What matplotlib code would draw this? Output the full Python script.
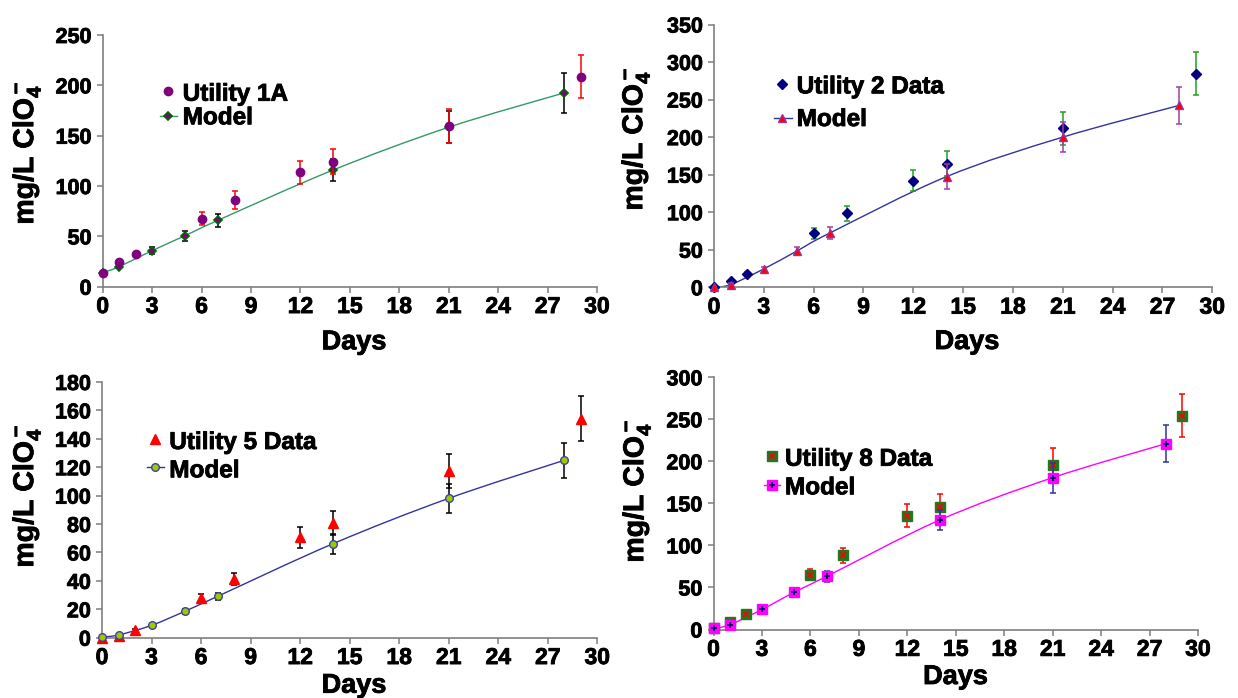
import numpy as np
import matplotlib
matplotlib.use("Agg")
import matplotlib.pyplot as plt
import matplotlib.patheffects as pe
from matplotlib.path import Path
from matplotlib.patches import PathPatch
from matplotlib.lines import Line2D

# ---------------- data ----------------
data_days = [0, 1, 2, 6, 8, 12, 14, 21, 29]
model_days = [0, 1, 3, 5, 7, 14, 21, 28]
x_ticks = list(range(0, 31, 3))

u1_data = [13.9, 24.5, 32.2, 67.6, 85.9, 113.7, 124.3, 159.7, 208.7]
u1_data_err = [1.5, 2.0, 2.5, 6.8, 9.0, 11.5, 12.5, 16.5, 21.0]
u1_model = [13.9, 19.9, 35.8, 50.7, 66.0, 116.0, 158.4, 192.5]
u1_model_err = [1.0, 1.5, 3.3, 5.0, 6.7, 11.0, 16.0, 19.5]

u2_data = [1.0, 8.0, 18.3, 71.7, 98.4, 142.0, 164.7, 211.5, 284.5]
u2_data_err = [1.0, 1.5, 2.0, 7.3, 10.0, 14.0, 16.5, 22.0, 29.0]
u2_model = [0.0, 3.6, 24.5, 48.5, 72.6, 147.4, 200.0, 242.2]
u2_model_err = [1.0, 1.5, 3.0, 5.5, 8.0, 16.5, 20.0, 24.5]

u5_data = [0.0, 1.4, 5.2, 27.9, 41.3, 70.7, 81.0, 117.6, 154.2]
u5_data_err = [0.5, 0.8, 1.0, 3.0, 4.4, 7.5, 8.5, 12.0, 15.7]
u5_model = [0.5, 1.9, 8.7, 18.5, 29.1, 66.2, 98.1, 124.9]
u5_model_err = [0.5, 0.8, 1.0, 1.8, 2.5, 7.0, 10.0, 12.4]

u8_data = [2.0, 9.1, 18.3, 65.1, 88.5, 135.3, 146.0, 196.0, 254.4]
u8_data_err = [1.0, 2.0, 2.0, 6.5, 9.0, 13.5, 15.0, 20.0, 25.8]
u8_model = [1.2, 5.6, 23.8, 44.4, 63.1, 130.2, 180.6, 221.0]
u8_model_err = [1.0, 1.5, 2.0, 3.0, 7.0, 12.3, 18.0, 22.0]

u1_yticks = list(range(0, 251, 50))
u2_yticks = list(range(0, 351, 50))
u5_yticks = list(range(0, 181, 20))
u8_yticks = list(range(0, 301, 50))

labels = ["Utility 1A", "Utility 2 Data", "Utility 5 Data", "Utility 8 Data"]
model_label = "Model"
y_label = r"mg/L ClO$_4^-$"
x_label = "Days"

# ---------------- style ----------------
plt.rcParams['font.family'] = ['Liberation Sans', 'DejaVu Sans']
plt.rcParams['font.weight'] = 'bold'
plt.rcParams['mathtext.fontset'] = 'custom'
plt.rcParams['mathtext.rm'] = 'Liberation Sans:bold'
plt.rcParams['mathtext.it'] = 'Liberation Sans:bold'
plt.rcParams['mathtext.bf'] = 'Liberation Sans:bold'
plt.rcParams['mathtext.default'] = 'rm'

HEAVY = [pe.withStroke(linewidth=0.6, foreground='black')]

W, H = 1238, 698
fig = plt.figure(figsize=(W / 100, H / 100), dpi=100)
fig.patch.set_facecolor('white')


def fx(x):
    return x / W


def fy(y):
    return 1 - y / H


def smooth_path(x, y):
    """Smoothed line through the points (Catmull-Rom as cubic Bezier)."""
    pts = np.column_stack([x, y]).astype(float)
    n = len(pts)
    verts = [pts[0]]
    codes = [Path.MOVETO]
    for i in range(n - 1):
        p0 = pts[i - 1] if i > 0 else pts[i]
        p1 = pts[i]
        p2 = pts[i + 1]
        p3 = pts[i + 2] if i + 2 < n else pts[i + 1]
        verts += [p1 + (p2 - p0) / 6, p2 - (p3 - p1) / 6, p2]
        codes += [Path.CURVE4] * 3
    return Path(verts, codes)


def make_axes(l, t, r, b, ymax, yticks):
    ax = fig.add_axes([fx(l), fy(b), (r - l) / W, (b - t) / H])
    ax.patch.set_alpha(0)
    for s in ['top', 'right']:
        ax.spines[s].set_visible(False)
    for s in ['left', 'bottom']:
        ax.spines[s].set_color('#7f7f7f')
        ax.spines[s].set_linewidth(1.2)
    ax.tick_params(direction='out', length=4, width=1.1, color='#7f7f7f')
    ax.tick_params(axis='x', labelsize=16.5, pad=2)
    ax.tick_params(axis='y', labelsize=15.5, pad=4)
    ax.set_xlim(0, 30)
    ax.set_ylim(0, ymax)
    ax.set_xticks(x_ticks)
    ax.set_yticks(yticks)
    for lab in ax.get_xticklabels() + ax.get_yticklabels():
        lab.set_path_effects(HEAVY)
    return ax


def draw_series(ax, days, vals, errs, ecolor, markers, z):
    ax.errorbar(days, vals, yerr=errs, fmt='none', ecolor=ecolor,
                elinewidth=1.1, capsize=2.2, capthick=1.1, zorder=z)
    for m in markers:
        ax.plot(days, vals, linestyle='none', clip_on=False, zorder=z + 0.5, **m)


def model_line(ax, days, vals, color):
    ax.add_patch(PathPatch(smooth_path(days, vals), facecolor='none',
                           edgecolor=color, linewidth=1.0, zorder=2))


def legend(xm, x0, x1, xt, y_d, y_m, base_d, base_m, text, data_markers,
           model_markers, line_color):
    for m in data_markers:
        fig.add_artist(Line2D([fx(xm)], [fy(y_d)], linestyle='none',
                              transform=fig.transFigure, **m))
    fig.add_artist(Line2D([fx(x0), fx(x1)], [fy(y_m), fy(y_m)], color=line_color,
                          linewidth=1.0, transform=fig.transFigure))
    for m in model_markers:
        fig.add_artist(Line2D([fx(xm)], [fy(y_m)], linestyle='none',
                              transform=fig.transFigure, **m))
    fig.text(fx(xt), fy(base_d), text, fontsize=17.5, fontweight='bold',
             ha='left', va='baseline', path_effects=HEAVY)
    fig.text(fx(xt), fy(base_m), model_label, fontsize=17.5, fontweight='bold',
             ha='left', va='baseline', path_effects=HEAVY)


def axis_titles(xc, xbase, yx, yc):
    fig.text(fx(xc), fy(xbase), x_label, fontsize=19.5, fontweight='bold',
             ha='center', va='baseline', path_effects=HEAVY)
    fig.text(fx(yx), fy(yc), y_label, fontsize=20.5, fontweight='bold',
             rotation=90, ha='center', va='center', path_effects=HEAVY)


# ---------------- Utility 1A ----------------
ax1 = make_axes(102.7, 35, 597, 286.7, 250, u1_yticks)
m1_data = [dict(marker='o', ms=6, mfc='#800080', mec='#800080')]
m1_model = [dict(marker='D', ms=4.2, mfc='#800080', mec='#006400', mew=1.2)]
model_line(ax1, model_days, u1_model, '#339966')
draw_series(ax1, model_days, u1_model, u1_model_err, 'black', m1_model, 3)
draw_series(ax1, data_days, u1_data, u1_data_err, '#ff0000', m1_data, 5)
legend(167.7, 160, 176.7, 182.7, 90.7, 115.7, 100.7, 124.3, labels[0],
       m1_data, m1_model, '#339966')
axis_titles(354, 349.3, 27, 153)

# ---------------- Utility 2 ----------------
ax2 = make_axes(714, 24.5, 1212.3, 287.3, 350, u2_yticks)
m2_data = [dict(marker='D', ms=5, mfc='#000080', mec='#000080')]
m2_model = [dict(marker='^', ms=6, mfc='#ff0000', mec='#993399', mew=1.0)]
model_line(ax2, model_days, u2_model, '#3333a0')
draw_series(ax2, data_days, u2_data, u2_data_err, '#22a022', m2_data, 3)
draw_series(ax2, model_days, u2_model, u2_model_err, '#a040a0', m2_model, 5)
legend(782.3, 774, 791.7, 796.7, 84.3, 118.3, 93.3, 126, labels[1],
       m2_data, m2_model, '#3333a0')
axis_titles(967, 349, 636, 139)

# ---------------- Utility 5 ----------------
ax3 = make_axes(102, 382, 597.3, 637.7, 180, u5_yticks)
m3_data = [dict(marker='^', ms=7, mfc='#ff0000', mec='#ff0000')]
m3_model = [dict(marker='o', ms=5.5, mfc='#99cc00', mec='#4040a0', mew=1.0)]
model_line(ax3, model_days, u5_model, '#3333a0')
draw_series(ax3, data_days, u5_data, u5_data_err, 'black', m3_data, 3)
draw_series(ax3, model_days, u5_model, u5_model_err, 'black', m3_model, 5)
legend(155.3, 146.7, 164, 169.3, 439.3, 467.3, 449, 477.3, labels[2],
       m3_data, m3_model, '#3333a0')
axis_titles(354, 692.7, 27, 496)

# ---------------- Utility 8 ----------------
ax4 = make_axes(713.5, 377.3, 1198, 629.5, 300, u8_yticks)
m4_data = [dict(marker='s', ms=6.5, mfc='#1f7a1f', mec='#1f7a1f'),
           dict(marker='x', ms=4, mec='#ff0000', mew=1.2)]
m4_model = [dict(marker='s', ms=6.5, mfc='#ff00ff', mec='#ff00ff'),
            dict(marker='+', ms=5, mec='#000066', mew=1.2)]
model_line(ax4, model_days, u8_model, '#ff00ff')
draw_series(ax4, data_days, u8_data, u8_data_err, '#ff0000', m4_data, 3)
draw_series(ax4, model_days, u8_model, u8_model_err, '#333399', m4_model, 5)
legend(771.7, 764, 780, 785, 455.7, 485, 465.7, 494.3, labels[3],
       m4_data, m4_model, '#ff00ff')
axis_titles(955.5, 684, 637, 491)

fig.savefig("out.png", dpi=100)
